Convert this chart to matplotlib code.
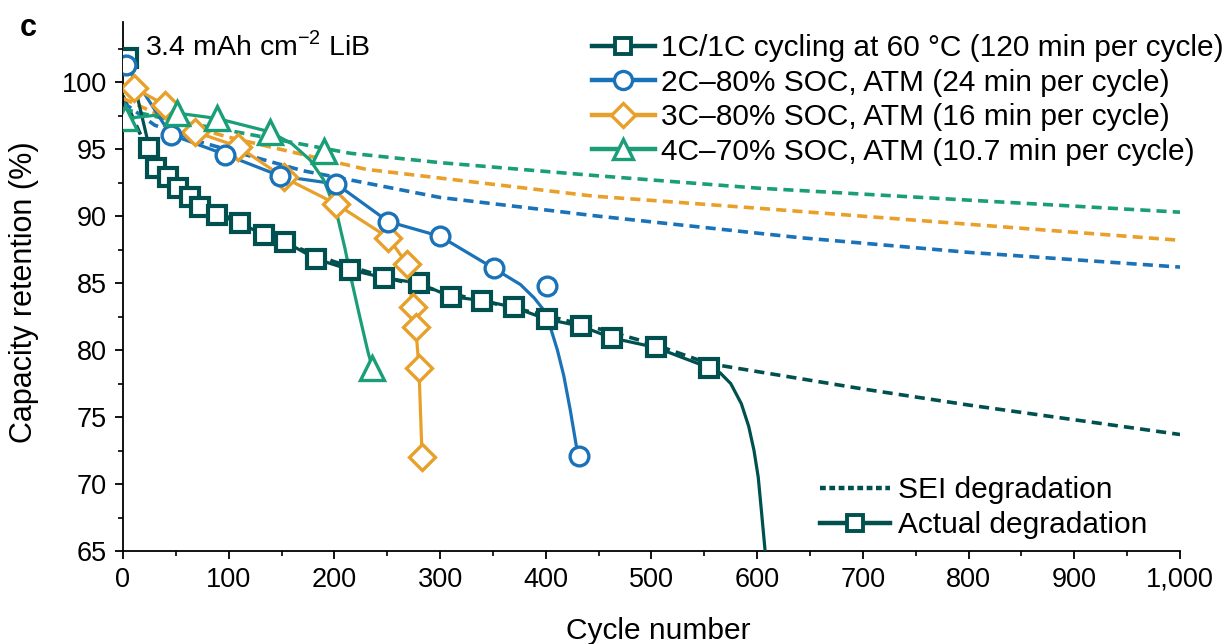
import matplotlib
matplotlib.use("Agg")
import matplotlib.pyplot as plt
from matplotlib.lines import Line2D
from matplotlib.ticker import MultipleLocator, FuncFormatter

plt.rcParams['font.family'] = ['Liberation Sans', 'DejaVu Sans']
plt.rcParams['mathtext.fontset'] = 'custom'
plt.rcParams['mathtext.rm'] = 'Liberation Sans'

# --- data ---
# 1C/1C at 60 C (actual degradation)
c1_cyc = [5, 25, 31, 43, 52, 63, 73, 89, 111, 133, 153, 183, 215, 247, 280, 310, 340, 370, 401, 433, 463, 504, 554]
c1_ret = [101.8, 95.1, 93.6, 92.9, 92.1, 91.4, 90.7, 90.1, 89.5, 88.6, 88.1, 86.8, 86.0, 85.4, 85.0, 84.0, 83.7, 83.2, 82.3, 81.8, 80.9, 80.2, 78.7]
c1_tail_cyc = [554, 565, 575, 585, 592, 597, 601, 604, 607.5]
c1_tail_ret = [78.7, 78.3, 77.5, 76.0, 74.3, 72.5, 70.5, 68.0, 65.0]

# 2C-80% SOC
c2_cyc = [3, 45, 97, 149, 202, 251, 300, 351, 401, 431]
c2_ret = [101.3, 96.1, 94.6, 93.0, 92.4, 89.6, 88.5, 86.1, 84.8, 72.1]
c2_fit_cyc = [3, 45, 97, 149, 202, 251, 300, 351, 376, 389, 398, 404, 411, 417, 423, 430.5]
c2_fit_ret = [101.3, 96.1, 94.6, 93.0, 92.4, 89.6, 88.5, 86.1, 84.9, 83.9, 83.0, 81.8, 80.0, 78.1, 75.6, 72.1]

# 3C-80% SOC
c3_cyc = [10, 40, 68, 109, 152, 202, 251, 269, 274, 277, 280, 283]
c3_ret = [99.6, 98.3, 96.3, 95.2, 92.9, 90.9, 88.4, 86.4, 83.2, 81.7, 78.7, 72.0]

# 4C-70% SOC
c4_cyc = [2, 51, 89, 139, 190, 236]
c4_ret = [97.3, 97.7, 97.3, 96.3, 94.9, 78.7]
c4_fit_cyc = [2, 51, 89, 139, 160, 177, 190, 202, 210, 216, 224, 232, 236]
c4_fit_ret = [97.3, 97.7, 97.3, 96.3, 95.4, 94.2, 92.7, 90.3, 87.6, 85.3, 82.5, 79.8, 78.7]

# SEI degradation (dashed)
sei1_cyc = [0, 20, 50, 100, 150, 200, 250, 300, 350, 400, 450, 500, 554, 600, 700, 800, 900, 1000]
sei1_ret = [99.0, 95.5, 92.5, 89.9, 88.1, 86.6, 85.4, 84.4, 83.5, 82.6, 81.6, 80.5, 79.0, 78.4, 77.1, 75.9, 74.8, 73.7]
sei2_cyc = [0, 30, 75, 170, 300, 450, 640, 800, 1000]
sei2_ret = [98.5, 96.8, 95.5, 93.4, 91.4, 90.0, 88.4, 87.3, 86.2]
sei3_cyc = [0, 50, 100, 230, 445, 600, 800, 1000]
sei3_ret = [98.8, 97.0, 95.9, 93.5, 91.5, 90.6, 89.4, 88.2]
sei4_cyc = [0, 50, 100, 215, 300, 452, 600, 800, 1000]
sei4_ret = [98.0, 97.1, 96.4, 94.7, 94.0, 93.0, 92.1, 91.2, 90.3]

labels = ['1C/1C cycling at 60 °C (120 min per cycle)',
          '2C–80% SOC, ATM (24 min per cycle)',
          '3C–80% SOC, ATM (16 min per cycle)',
          '4C–70% SOC, ATM (10.7 min per cycle)']

teal = '#00504f'
blue = '#1a72b8'
orange = '#e8a02a'
green = '#1a9e77'

fig = plt.figure(figsize=(12.32, 6.44), dpi=100)
ax = fig.add_axes([0.0998, 0.1444, 0.8580, 0.8214])

dash = (0, (2.8, 1.7))
lw = 2.3
for cx, cy, col in [(sei1_cyc, sei1_ret, teal), (sei2_cyc, sei2_ret, blue),
                    (sei3_cyc, sei3_ret, orange), (sei4_cyc, sei4_ret, green)]:
    ax.plot(cx, cy, linestyle=dash, color=col, lw=2.6, zorder=2)

# solid lines
ax.plot(c1_cyc + c1_tail_cyc[1:], c1_ret + c1_tail_ret[1:], color=teal, lw=lw, zorder=3)
ax.plot(c2_fit_cyc, c2_fit_ret, color=blue, lw=lw, zorder=3)
ax.plot(c3_cyc, c3_ret, color=orange, lw=lw, zorder=3)
ax.plot(c4_fit_cyc, c4_fit_ret, color=green, lw=lw, zorder=3)

# markers
mk = dict(linestyle='none', markerfacecolor='white', zorder=4)
ax.plot(c1_cyc, c1_ret, marker='s', ms=13, mew=3.0, color=teal, **mk)
ax.plot(c3_cyc, c3_ret, marker='D', ms=13.5, mew=2.4, color=orange, **mk)
ax.plot(c2_cyc, c2_ret, marker='o', ms=13.5, mew=2.4, color=blue, **mk)
ax.plot(c4_cyc, c4_ret, marker='^', ms=17, mew=2.4, color=green, **mk)

ax.set_xlim(0, 1000)
ax.set_ylim(65, 104.5)
ax.spines['top'].set_visible(False)
ax.spines['right'].set_visible(False)
ax.spines['left'].set_linewidth(1.3)
ax.spines['bottom'].set_linewidth(1.3)
ax.set_yticks([65, 70, 75, 80, 85, 90, 95, 100])
ax.xaxis.set_major_locator(MultipleLocator(100))
ax.xaxis.set_minor_locator(MultipleLocator(50))
ax.yaxis.set_minor_locator(MultipleLocator(2.5))
ax.xaxis.set_major_formatter(FuncFormatter(lambda v, p: f'{int(v):,}'))
ax.tick_params(which='major', direction='out', length=5.5, width=1.3, labelsize=19.5, pad=6)
ax.tick_params(which='minor', direction='out', length=3.5, width=1.2)
ax.set_xlabel('Cycle number', fontsize=21.5)
ax.set_ylabel('Capacity retention (%)', fontsize=22)
ax.xaxis.set_label_coords(0.506, -0.124)
ax.yaxis.set_label_coords(-0.079, 0.49)

fig.text(0.023, 0.956, 'c', fontsize=22, fontweight='bold', va='center', ha='center')
ax.text(20.8, 102.66, '3.4 mAh cm$^{-2}$ LiB', fontsize=20.5, va='center')

handles = []
for col, m, s, ew in [(teal, 's', 12, 2.8), (blue, 'o', 13, 2.4), (orange, 'D', 12.5, 2.4), (green, '^', 15, 2.4)]:
    handles.append(Line2D([0], [0], color=col, lw=3.2, marker=m, ms=s,
                          markerfacecolor='white', markeredgewidth=ew))
fig.legend(handles, labels, loc='upper right', bbox_to_anchor=(0.993, 0.947),
           frameon=False, fontsize=21.5, handlelength=2.1, handletextpad=0.2,
           labelspacing=0.22, borderaxespad=0, borderpad=0)

h_sei = Line2D([0], [0], color=teal, lw=3.2, linestyle=(0, (1.3, 0.8)))
h_act = Line2D([0], [0], color=teal, lw=3.2, marker='s', ms=12,
               markerfacecolor='white', markeredgewidth=2.8)
fig.legend([h_sei, h_act], ['SEI degradation', 'Actual degradation'],
           loc='lower right', bbox_to_anchor=(0.931, 0.163), frameon=False,
           fontsize=21.5, handlelength=2.35, handletextpad=0.25, labelspacing=0.22,
           borderaxespad=0, borderpad=0)

fig.savefig('out.png', dpi=100)
